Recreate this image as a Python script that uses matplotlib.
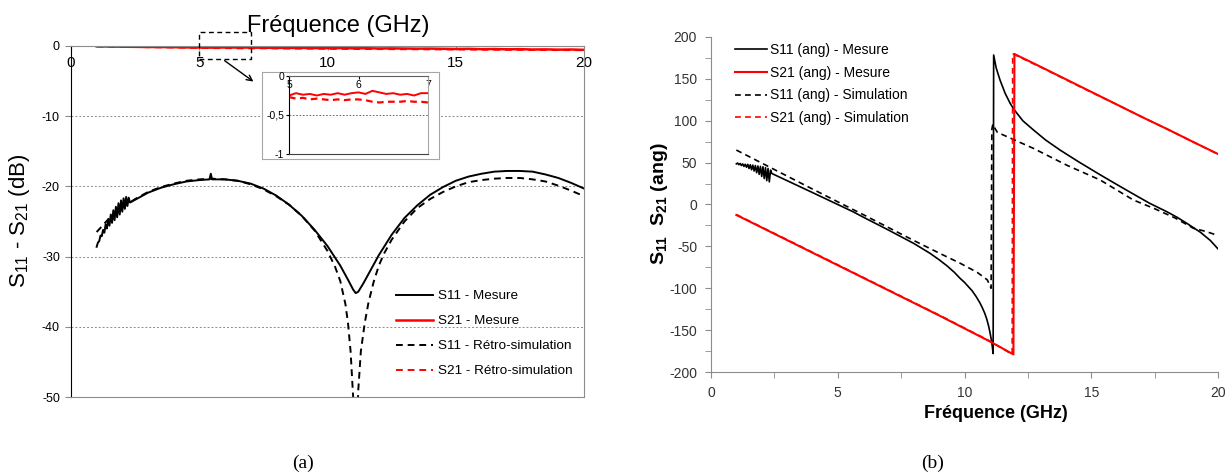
import numpy as np
import matplotlib
matplotlib.use('Agg')
import matplotlib.pyplot as plt
from matplotlib.patches import Rectangle

plt.rcParams['font.family'] = ['Liberation Sans', 'DejaVu Sans']
plt.rcParams['mathtext.default'] = 'regular'
plt.rcParams['axes.unicode_minus'] = False

# ---- (a) module S11 / S21 en dB ----
f_s11_mes = [1.00, 1.05, 1.10, 1.15, 1.20, 1.25, 1.30, 1.35, 1.40, 1.45,
             1.50, 1.55, 1.60, 1.65, 1.70, 1.75, 1.80, 1.85, 1.90, 1.95,
             2.00, 2.05, 2.10, 2.15, 2.20, 2.25, 2.30,
             2.5, 3.0, 3.5, 4.0, 4.5, 5.0,
             5.4, 5.45, 5.5,
             6.0, 6.5, 7.0, 7.5, 8.0, 8.5, 9.0, 9.5, 10.0, 10.5,
             10.8, 11.0, 11.1, 11.2, 11.4, 11.7,
             12.0, 12.5, 13.0, 13.5, 14.0, 14.5, 15.0, 15.5, 16.0, 16.5,
             17.0, 17.5, 18.0, 18.5, 19.0, 19.5, 20.0]
s11_mes = [-28.6, -28.0, -27.8, -27.0, -27.1, -26.2, -26.6, -25.4, -26.0, -24.7,
           -25.6, -24.0, -25.2, -23.4, -24.8, -22.9, -24.4, -22.4, -24.0, -22.0,
           -23.6, -21.7, -23.2, -21.5, -22.8, -21.6, -22.3,
           -21.9, -20.9, -20.2, -19.7, -19.3, -19.1,
           -19.0, -18.2, -19.0,
           -19.0, -19.2, -19.6, -20.3, -21.3, -22.6, -24.2, -26.2, -28.5, -31.3,
           -33.3, -34.7, -35.2, -35.0, -33.8, -31.8,
           -29.8, -26.9, -24.5, -22.7, -21.2, -20.1, -19.2, -18.6, -18.2, -17.9,
           -17.8, -17.8, -17.9, -18.3, -18.8, -19.5, -20.3]

f_s11_sim = [1.0, 1.5, 2.0, 2.5, 3.0, 3.5, 4.0, 4.5, 5.0, 5.5,
             6.0, 6.5, 7.0, 7.5, 8.0, 8.5, 9.0, 9.5, 10.0,
             10.3, 10.5, 10.7, 10.8, 10.9, 11.0, 11.1, 11.2, 11.3, 11.45, 11.6, 11.8,
             12.0, 12.2, 12.5, 13.0, 13.5, 14.0, 14.5, 15.0, 15.5, 16.0,
             16.5, 17.0, 17.5, 18.0, 18.5, 19.0, 19.5, 20.0]
s11_sim = [-26.5, -24.5, -23.0, -21.8, -20.8, -20.1, -19.6, -19.2, -19.0, -18.9,
           -19.0, -19.2, -19.7, -20.4, -21.4, -22.6, -24.2, -26.3, -29.2,
           -31.5, -33.5, -36.8, -39.5, -43.5, -50.0, -60.0, -49.0, -43.5, -39.5, -36.5, -33.6,
           -31.3, -29.6, -27.6, -25.0, -23.1, -21.8, -20.8, -20.0, -19.4, -19.1,
           -18.9, -18.8, -18.8, -19.0, -19.3, -19.9, -20.6, -21.4]

f_s21 = np.arange(1.0, 20.01, 0.5)
s21_mes = [-0.05, -0.08, -0.10, -0.12, -0.14, -0.15, -0.17, -0.20, -0.22, -0.23,
           -0.21, -0.22, -0.22, -0.25, -0.26, -0.28, -0.27, -0.30, -0.31, -0.30,
           -0.33, -0.32, -0.35, -0.34, -0.36, -0.38, -0.37, -0.40, -0.42, -0.40,
           -0.45, -0.43, -0.47, -0.45, -0.50, -0.48, -0.52, -0.50, -0.55]
s21_sim = [-0.08, -0.10, -0.12, -0.14, -0.17, -0.19, -0.21, -0.24, -0.27, -0.30,
           -0.30, -0.33, -0.34, -0.33, -0.35, -0.36, -0.38, -0.38, -0.40, -0.41,
           -0.42, -0.43, -0.44, -0.45, -0.46, -0.47, -0.48, -0.49, -0.50, -0.51,
           -0.52, -0.53, -0.54, -0.55, -0.56, -0.57, -0.58, -0.59, -0.60]

# zoom 5-7 GHz
f_zoom = np.arange(5.0, 7.001, 0.1)
s21_mes_zoom = [-0.25, -0.22, -0.24, -0.23, -0.25, -0.23, -0.24, -0.22, -0.24, -0.22,
                -0.21, -0.23, -0.19, -0.21, -0.23, -0.22, -0.24, -0.23, -0.25, -0.22, -0.22]
s21_sim_zoom = [-0.27, -0.29, -0.28, -0.30, -0.29, -0.30, -0.31, -0.30, -0.31, -0.30,
                -0.30, -0.31, -0.33, -0.34, -0.33, -0.33, -0.33, -0.32, -0.33, -0.33, -0.34]

# ---- (b) phase S11 / S21 en degres ----
f_ph11_mes = [1.00, 1.05, 1.10, 1.15, 1.20, 1.25, 1.30, 1.35, 1.40, 1.45,
              1.50, 1.55, 1.60, 1.65, 1.70, 1.75, 1.80, 1.85, 1.90, 1.95,
              2.00, 2.05, 2.10, 2.15, 2.20, 2.25, 2.30, 2.35,
              2.40, 3.0, 4.0, 5.0, 5.6, 6.0, 7.0, 8.0, 8.64, 9.0, 9.3, 9.6, 9.82,
              10.0, 10.15, 10.3, 10.45, 10.6, 10.7, 10.8, 10.88, 10.95, 11.0, 11.05, 11.09, 11.13,
              11.15, 11.25, 11.4, 11.6, 11.8, 11.97, 12.3, 12.72, 13.2, 13.77, 14.5, 15.35,
              16.0, 16.66, 17.3, 17.98, 18.4, 18.77, 19.3, 19.7, 20.0]
ph11_mes = [48.5, 49.5, 47.5, 49.0, 46.5, 48.5, 45.5, 48.0, 44.5, 48.0,
            43.0, 47.5, 41.5, 47.0, 40.0, 46.5, 38.0, 46.0, 36.0, 45.5,
            33.5, 45.0, 31.0, 44.0, 28.5, 43.0, 27.0, 41.0,
            37.0, 28.5, 14.3, 0.0, -8.6, -15.0, -30.5, -46.5, -58.3, -66.0, -73.0, -81.0, -88.0,
            -93.0, -98.0, -103.0, -109.5, -117.0, -123.0, -130.0, -137.0, -145.0, -152.0, -160.0, -168.0, -178.0,
            178.5, 163.0, 148.7, 133.0, 120.8, 112.8, 100.0, 89.0, 77.0, 65.0, 51.0, 35.5,
            24.0, 12.5, 1.5, -8.6, -15.5, -22.5, -33.0, -43.0, -53.0]

f_ph21_mes = [1.0, 2.0, 3.0, 4.0, 5.0, 6.0, 7.0, 8.0, 9.0, 10.0, 11.0, 11.93,
              11.97, 13.0, 14.0, 15.0, 16.0, 17.0, 18.0, 19.0, 20.0]
ph21_mes = [-12.5, -27.5, -42.5, -57.5, -72.5, -87.5, -102.5, -117.5, -132.5, -148.0, -163.5, -179.0,
            179.7, 164.5, 149.5, 134.5, 119.5, 104.5, 90.0, 75.0, 60.3]

f_ph11_sim = [1.0, 2.0, 3.0, 4.0, 5.0, 6.0, 7.0, 8.0, 9.0, 9.82, 10.5, 10.9, 11.05,
              11.08, 11.12, 11.2, 11.3, 11.53, 12.72, 14.03, 15.35, 16.66, 17.5, 18.3,
              19.03, 19.5, 20.0]
ph11_sim = [65.0, 49.5, 34.0, 18.5, 3.2, -12.0, -27.5, -43.0, -58.0, -70.0, -81.0, -90.0, -100.0,
            90.0, 96.0, 91.0, 86.0, 83.0, 67.0, 47.0, 29.3, 5.4, -5.0, -16.0,
            -28.4, -32.0, -37.0]

f_ph21_sim = [1.0, 2.0, 3.0, 4.0, 5.0, 6.0, 7.0, 8.0, 9.0, 10.0, 11.0, 11.88,
              11.90, 13.0, 14.0, 15.0, 16.0, 17.0, 18.0, 19.0, 20.0]
ph21_sim = [-12.0, -27.0, -42.0, -57.0, -72.0, -87.0, -102.0, -117.0, -132.0, -147.5, -163.0, -179.0,
            180.0, 164.0, 149.0, 134.0, 119.5, 104.5, 90.0, 75.0, 60.0]

W, H = 1228, 474
fig = plt.figure(figsize=(W / 100, H / 100), dpi=100)
grey = '#8c8c8c'
dash = (3.5, 2.5)

# ================= (a) =================
ax1 = fig.add_axes([71 / W, 1 - 397 / H, (584 - 71) / W, (397 - 46) / H])
ax1.plot(f_s11_mes, s11_mes, color='black', lw=1.4, label='S11 - Mesure')
ax1.plot(f_s21, s21_mes, color='red', lw=1.8, label='S21 - Mesure')
ax1.plot(f_s11_sim, s11_sim, color='black', lw=1.4, dashes=dash, label='S11 - Rétro-simulation')
ax1.plot(f_s21, s21_sim, color='red', lw=1.4, dashes=dash, label='S21 - Rétro-simulation')
ax1.set_xlim(0, 20)
ax1.set_ylim(-50, 0)
ax1.set_yticks([0, -10, -20, -30, -40, -50])
ax1.set_xticks([0, 5, 10, 15, 20])
ax1.yaxis.grid(True, color=grey, lw=0.7, ls=(0, (2, 2)))
ax1.tick_params(axis='y', direction='out', length=4, color=grey, labelsize=9, pad=4)
ax1.tick_params(axis='x', top=True, bottom=False, labeltop=True, labelbottom=False,
                direction='in', length=3, color=grey, labelsize=11, pad=-17)
ax1.spines['left'].set_color('black')
for s in ['right', 'bottom', 'top']:
    ax1.spines[s].set_color(grey)
ax1.set_title('Fréquence (GHz)', fontsize=17, pad=10, x=(338 - 71) / (584 - 71))
fig.text(20 / W, 1 - 221 / H, 'S$_{11}$ - S$_{21}$ (dB)', rotation=90,
         ha='center', va='center', fontsize=16)

# zone zoomee + fleche
ax1.add_patch(Rectangle((5, -1.85), 2, 3.85, fill=False, ec='black', lw=1,
                        ls=(0, (3.5, 2.5)), clip_on=False, zorder=5))
ax1.annotate('', xy=(7.2, -5.3), xytext=(5.9, -1.85),
             arrowprops=dict(arrowstyle='->', color='black', lw=1), annotation_clip=False)

ax1.legend(loc='upper left', bbox_to_anchor=(396 / W, 1 - 290 / H),
           bbox_transform=fig.transFigure, frameon=False, fontsize=9.7,
           handlelength=2.75, handletextpad=0.35, labelspacing=0.93,
           borderpad=0, borderaxespad=0)

# cadre + encart
axf = fig.add_axes([262 / W, 1 - 159 / H, (439 - 262) / W, (159 - 72) / H])
axf.set_xticks([])
axf.set_yticks([])
for s in axf.spines.values():
    s.set_color('#a6a6a6')

axi = fig.add_axes([289 / W, 1 - 154 / H, (428 - 289) / W, (154 - 76) / H])
axi.plot(f_zoom, s21_mes_zoom, color='red', lw=1.4)
axi.plot(f_zoom, s21_sim_zoom, color='red', lw=1.6, dashes=(3, 2))
axi.set_xlim(5, 7)
axi.set_ylim(-1, 0)
axi.set_xticks([5, 6, 7])
axi.set_yticks([0, -0.5, -1], ['0', '-0,5', '-1'])
axi.yaxis.grid(True, color='#555555', lw=0.6, ls=(0, (2, 2)))
axi.tick_params(axis='x', top=True, bottom=False, labeltop=True, labelbottom=False,
                direction='in', length=2.5, labelsize=7.5, pad=-10)
axi.tick_params(axis='y', direction='out', length=2, labelsize=7.5, pad=1.5)
axi.spines['left'].set_color('black')
axi.spines['bottom'].set_color('#404040')
axi.spines['top'].set_color('#606060')
axi.spines['right'].set_color('#a6a6a6')

# ================= (b) =================
ax2 = fig.add_axes([711 / W, 1 - 372 / H, (1218 - 711) / W, (372 - 37) / H])
ax2.plot(f_ph11_mes, ph11_mes, color='black', lw=1.2, label='S11 (ang) - Mesure')
ax2.plot(f_ph21_mes, ph21_mes, color='red', lw=1.5, label='S21 (ang) - Mesure')
ax2.plot(f_ph11_sim, ph11_sim, color='black', lw=1.2, dashes=dash, label='S11 (ang) - Simulation')
ax2.plot(f_ph21_sim, ph21_sim, color='red', lw=1.2, dashes=dash, label='S21 (ang) - Simulation')
ax2.set_xlim(0, 20)
ax2.set_ylim(-200, 200)
ax2.set_xticks(np.arange(0, 21, 5))
ax2.set_xticks(np.arange(0, 21, 2.5), minor=True)
ax2.set_yticks(np.arange(-200, 201, 50))
ax2.set_yticks(np.arange(-200, 201, 25), minor=True)
ax2.tick_params(which='both', direction='out', length=4, color=grey, labelsize=10,
                labelcolor='#333333')
ax2.tick_params(axis='y', pad=6)
ax2.tick_params(axis='x', pad=6)
ax2.spines['top'].set_visible(False)
ax2.spines['right'].set_visible(False)
for s in ['left', 'bottom']:
    ax2.spines[s].set_color(grey)
ax2.set_xlabel('Fréquence (GHz)', fontsize=13, fontweight='bold')
ax2.xaxis.set_label_coords((996 - 711) / (1218 - 711), -0.10)
fig.text(659 / W, 1 - 204 / H, 'S$_{11}$  S$_{21}$ (ang)', rotation=90,
         ha='center', va='center', fontsize=14, fontweight='bold')

ax2.legend(loc='upper left', bbox_to_anchor=(735 / W, 1 - 43 / H),
           bbox_transform=fig.transFigure, frameon=False, fontsize=10,
           handlelength=2.3, handletextpad=0.2, labelspacing=0.63,
           borderpad=0, borderaxespad=0)

# legendes (a) et (b)
fig.text(303 / W, 1 - 463 / H, '(a)', ha='center', va='center', fontsize=14,
         family='Liberation Serif')
fig.text(933 / W, 1 - 463 / H, '(b)', ha='center', va='center', fontsize=14,
         family='Liberation Serif')

fig.savefig('out.png', dpi=100)
